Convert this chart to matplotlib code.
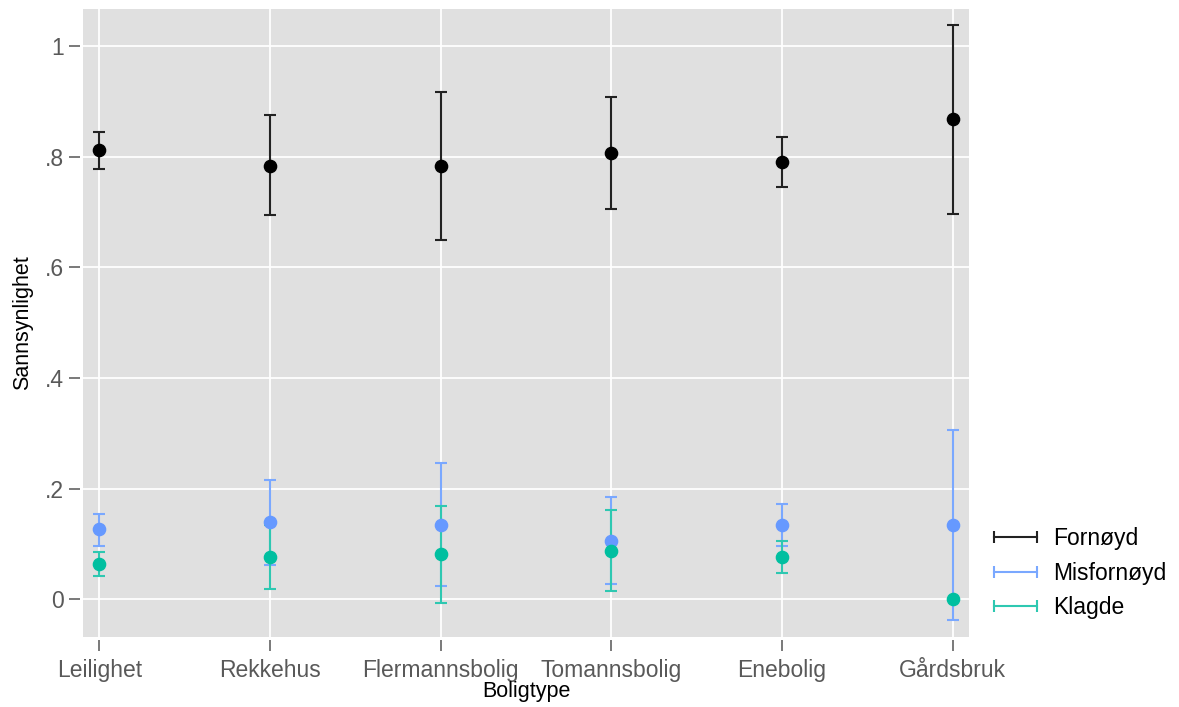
import numpy as np
import matplotlib
matplotlib.use('Agg')
import matplotlib.pyplot as plt
from matplotlib.lines import Line2D

plt.rcParams['font.family'] = ['Liberation Sans', 'DejaVu Sans']

# Data
boligtype = ['Leilighet', 'Rekkehus', 'Flermannsbolig', 'Tomannsbolig', 'Enebolig', 'Gårdsbruk']

fornoyd = [0.812, 0.784, 0.783, 0.806, 0.790, 0.868]
fornoyd_lo = [0.777, 0.694, 0.650, 0.705, 0.745, 0.696]
fornoyd_hi = [0.844, 0.875, 0.917, 0.908, 0.835, 1.038]

misfornoyd = [0.127, 0.139, 0.135, 0.106, 0.135, 0.134]
misfornoyd_lo = [0.097, 0.063, 0.025, 0.027, 0.097, -0.038]
misfornoyd_hi = [0.155, 0.216, 0.246, 0.185, 0.173, 0.306]

klagde = [0.064, 0.077, 0.082, 0.088, 0.076, 0.0]
klagde_lo = [0.042, 0.018, -0.006, 0.015, 0.047, None]
klagde_hi = [0.085, 0.135, 0.169, 0.161, 0.106, None]

yticks = [0, 0.2, 0.4, 0.6, 0.8, 1.0]
ytick_labels = ['0', '.2', '.4', '.6', '.8', '1']

series = [
    ('Fornøyd', fornoyd, fornoyd_lo, fornoyd_hi, 'black', '#222222'),
    ('Misfornøyd', misfornoyd, misfornoyd_lo, misfornoyd_hi, '#6699FF', '#7AA8FF'),
    ('Klagde', klagde, klagde_lo, klagde_hi, '#00BFA0', '#2EC8B1'),
]

fig = plt.figure(figsize=(11.79, 7.07), dpi=100)
ax = fig.add_axes([0.0704, 0.099, 0.7515, 0.8883])
ax.set_facecolor('#E0E0E0')

x = np.arange(len(boligtype))

# confidence intervals first, then the point estimates on top
for name, est, lo, hi, mcol, lcol in series:
    idx = [i for i in range(len(est)) if lo[i] is not None]
    est_a = np.array([est[i] for i in idx])
    lo_a = np.array([lo[i] for i in idx])
    hi_a = np.array([hi[i] for i in idx])
    ax.errorbar(x[idx], est_a, yerr=[est_a - lo_a, hi_a - est_a], fmt='none',
                ecolor=lcol, elinewidth=1.5, capsize=4.5, capthick=1.5, zorder=2)

for name, est, lo, hi, mcol, lcol in series:
    ax.plot(x, est, 'o', color=mcol, markersize=8.8, zorder=3)

ax.set_xlim(-0.095, 5.095)
ax.set_ylim(-0.068, 1.067)
ax.set_xticks(x)
ax.set_xticklabels(boligtype)
ax.set_yticks(yticks)
ax.set_yticklabels(ytick_labels)

ax.grid(True, color='white', linewidth=1.3)
ax.set_axisbelow(True)
for side in ['top', 'right']:
    ax.spines[side].set_visible(False)
for side in ['bottom', 'left']:
    ax.spines[side].set_color('none')
    ax.spines[side].set_position(('outward', 2))

ax.tick_params(axis='both', direction='out', length=8, width=1.1, color='#555555',
               labelsize=16.5, labelcolor='#595959')
ax.tick_params(axis='x', pad=6)
ax.tick_params(axis='y', pad=4)

ax.set_xlabel('Boligtype', fontsize=15.5, labelpad=-1)
ax.set_ylabel('Sannsynlighet', fontsize=15.5, labelpad=8)

handles = [Line2D([0], [0], color=lcol, linewidth=1.5, marker='|', markersize=9,
                  markeredgewidth=1.5) for _, _, _, _, _, lcol in series]
fig.legend(handles, [s[0] for s in series], loc='center left',
           bbox_to_anchor=(0.8278, 0.189), frameon=False, fontsize=16.5,
           numpoints=2, handlelength=2.48, handletextpad=0.4, labelspacing=0.5,
           borderpad=0)

fig.savefig('out.png', dpi=100)
